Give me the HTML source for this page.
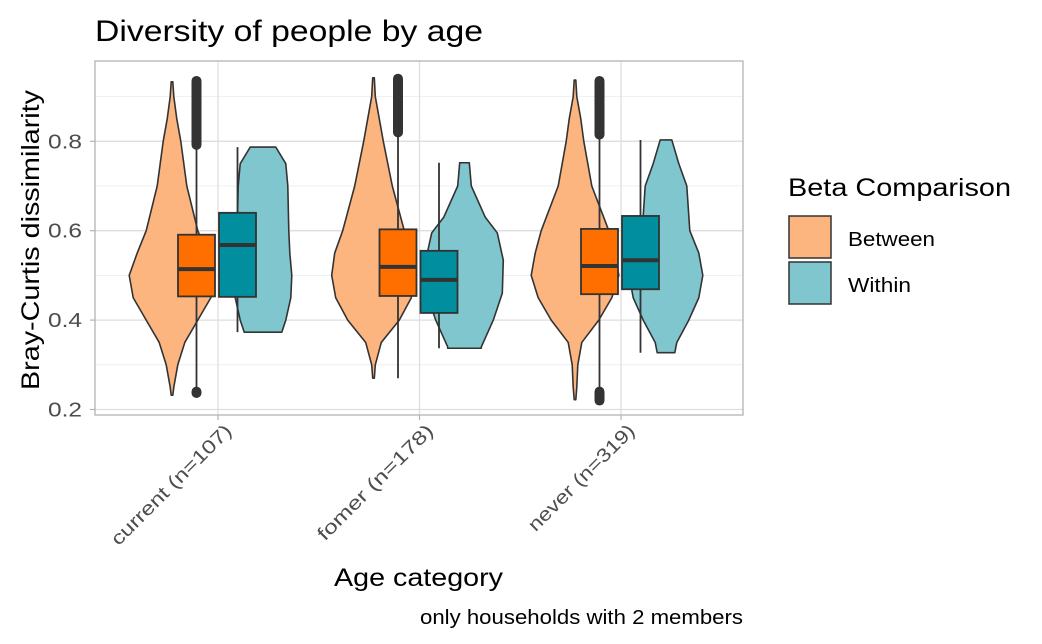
<!DOCTYPE html>
<html><head><meta charset="utf-8"><style>
body{margin:0;background:#fff;}
svg{display:block;font-family:"Liberation Sans",Arial,sans-serif;}
</style></head><body>
<svg id="chart" width="1042" height="644">
<text x="95" y="41" font-size="30" textLength="388" lengthAdjust="spacingAndGlyphs" fill="#000">Diversity of people by age</text>
<rect x="95" y="61" width="648" height="354" fill="#fff" stroke="none"/>
<g id="grid"></g>
<g id="marks"></g>
<rect x="95" y="61" width="648" height="354" fill="none" stroke="#b3b3b3" stroke-width="1.3"/>
<g id="axes"></g>
<text transform="translate(39,240) rotate(-90)" text-anchor="middle" font-size="25" textLength="300" lengthAdjust="spacingAndGlyphs">Bray-Curtis dissimilarity</text>
<text x="334" y="586" font-size="25" textLength="169" lengthAdjust="spacingAndGlyphs">Age category</text>
<text x="420" y="624" font-size="20" textLength="323" lengthAdjust="spacingAndGlyphs">only households with 2 members</text>
<text x="788" y="196" font-size="25" textLength="223" lengthAdjust="spacingAndGlyphs">Beta Comparison</text>
<rect x="789" y="216" width="42" height="42" fill="#FDB580" stroke="#333" stroke-width="1.5"/>
<text x="848" y="246" font-size="20" textLength="87" lengthAdjust="spacingAndGlyphs">Between</text>
<rect x="789" y="262" width="42" height="42" fill="#80C6CF" stroke="#333" stroke-width="1.5"/>
<text x="848" y="292" font-size="20" textLength="63" lengthAdjust="spacingAndGlyphs">Within</text>
</svg>
<script>
const categories = ["current (n=107)", "fomer (n=178)", "never (n=319)"];
const yTicks = [0.2, 0.4, 0.6, 0.8];
// box stats: [lowWhisker, q1, median, q3, highWhisker]
const betweenBox = [[0.239,0.453,0.514,0.591,0.792],[0.27,0.454,0.519,0.603,0.82],[0.245,0.458,0.521,0.604,0.815]];
const withinBox = [[0.373,0.452,0.568,0.64,0.787],[0.337,0.416,0.49,0.555,0.752],[0.327,0.469,0.534,0.633,0.803]];
// outlier ranges [from,to] (dense outlier clusters)
const betweenOutHigh = [[0.792,0.935],[0.82,0.94],[0.815,0.935]];
const betweenOutLow = [[0.237,0.24],null,[0.22,0.24]];
// violin profile levels and half-widths (px) per category
const betweenLevels = [[0.232,0.25,0.3,0.35,0.4,0.45,0.5,0.55,0.6,0.7,0.8,0.85,0.9,0.933],[0.27,0.3,0.35,0.4,0.45,0.5,0.55,0.6,0.7,0.8,0.85,0.9,0.942],[0.222,0.25,0.3,0.35,0.4,0.45,0.5,0.55,0.6,0.7,0.8,0.85,0.9,0.937]];
const betweenWidth = [[0,1,5,12,25,38,42,34,25,14,8,4,1,0],[0,1,7,25,37,41,38,30,18,9,5,1,0],[0,1,2,6,23,36,43,39,33,16,8,5,1,0]];
const withinLevels = [[0.373,0.4,0.45,0.5,0.55,0.6,0.7,0.75,0.787],[0.337,0.34,0.4,0.46,0.534,0.595,0.63,0.7,0.752],[0.327,0.35,0.4,0.45,0.5,0.55,0.6,0.7,0.75,0.803]];
const withinWidth = [[18,22,27,28,26,25,24,22,12],[16,16,28,37,38,32,20,6,4],[8,10,22,32,36,32,23,20,12,5]];

const ns="http://www.w3.org/2000/svg";
const y = v => 409.5 - (v-0.2)*447;
const x = i => 218 + 201.5*i;
function mk(tag, attrs, parent){const e=document.createElementNS(ns,tag);for(const k in attrs)e.setAttribute(k,attrs[k]);parent.appendChild(e);return e;}
const grid=document.getElementById('grid'), marks=document.getElementById('marks'), axes=document.getElementById('axes');
[0.3,0.5,0.7,0.9].forEach(v=>{const l=mk('line',{x1:95,x2:743,y1:y(v),y2:y(v),stroke:'#ebebeb','stroke-width':0.8},grid);

});
yTicks.forEach(v=>{const l=mk('line',{x1:95,x2:743,y1:y(v),y2:y(v),stroke:'#dedede','stroke-width':1.3},grid);


const t=mk('text',{x:82,y:y(v)+7,'text-anchor':'end','font-size':20,fill:'#4d4d4d',textLength:34,lengthAdjust:'spacingAndGlyphs'},axes);t.textContent=v.toFixed(1);


const tk=mk('line',{x1:90,x2:95,y1:y(v),y2:y(v),stroke:'#b3b3b3','stroke-width':1.2},axes);

});
const labLen=[162,155,142];
categories.forEach((c,i)=>{const l=mk('line',{x1:x(i),x2:x(i),y1:61,y2:415,stroke:'#dedede','stroke-width':1.3},grid);


const tk=mk('line',{x1:x(i),x2:x(i),y1:415,y2:420,stroke:'#b3b3b3','stroke-width':1.2},axes);


const t=mk('text',{transform:`translate(${x(i)+15},${432}) rotate(-45)`,'text-anchor':'end','font-size':19,fill:'#4d4d4d',textLength:labLen[i],lengthAdjust:'spacingAndGlyphs'},axes);t.textContent=c;

});
function violin(cx,lv,w,fill,name){let r=[],l=[];for(let k=0;k<lv.length;k++){r.push((cx+w[k]+0.8)+','+y(lv[k]));l.unshift((cx-w[k]-0.8)+','+y(lv[k]));}
const p=mk('polygon',{points:r.concat(l).join(' '),fill:fill,stroke:'#333','stroke-width':1.6,'stroke-linejoin':'round'},marks);

}
function box(cx,s,fill,name){const wl=mk('line',{x1:cx,x2:cx,y1:y(s[0]),y2:y(s[4]),stroke:'#333','stroke-width':1.8},marks);


const r=mk('rect',{x:cx-18.5,y:y(s[3]),width:37,height:y(s[1])-y(s[3]),fill:fill,stroke:'#333','stroke-width':1.8},marks);


const m=mk('line',{x1:cx-18.5,x2:cx+18.5,y1:y(s[2]),y2:y(s[2]),stroke:'#333','stroke-width':4},marks);

}
function outl(cx,rg,name){if(!rg)return;const l=mk('line',{x1:cx,x2:cx,y1:y(rg[0]),y2:y(rg[1]),stroke:'#333','stroke-width':10,'stroke-linecap':'round'},marks);

}
categories.forEach((c,i)=>{
violin(x(i)-46,betweenLevels[i],betweenWidth[i],'#FDB580','violin-between-'+i);
violin(x(i)+45,withinLevels[i],withinWidth[i],'#80C6CF','violin-within-'+i);
box(x(i)-21.5,betweenBox[i],'#FF6F00','box-between-'+i);
box(x(i)+19.5,withinBox[i],'#018E9E','box-within-'+i);
outl(x(i)-21.5,betweenOutHigh[i],'outliers-high-'+i);
outl(x(i)-21.5,betweenOutLow[i],'outliers-low-'+i);
});
</script>
</body></html>
